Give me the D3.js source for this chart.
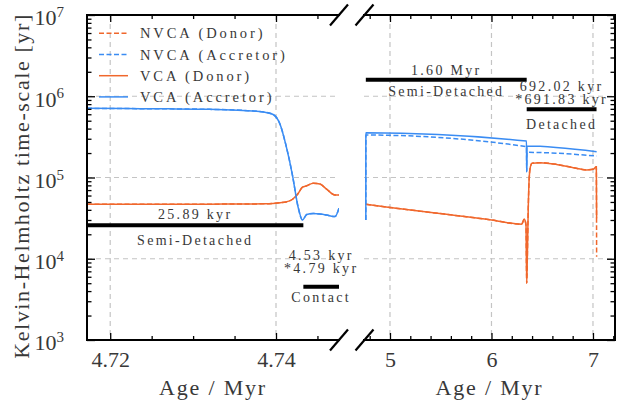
<!DOCTYPE html>
<html lang="en">
<head>
<meta charset="utf-8">
<title>Kelvin-Helmholtz time-scale</title>
<script src="https://cdn.jsdelivr.net/npm/d3@7"></script>
<style>
  body { margin: 0; background: #fff; }
  text { fill: #383838; }
</style>
</head>
<body>
<script>
// ---- data ----
// left panel (zoomed on the contact phase), ages in Myr, time-scales in yr
var leftAge      = [4.7172, 4.722, 4.727, 4.732, 4.736, 4.7385, 4.7396, 4.7405, 4.7412, 4.7420, 4.74265, 4.7432, 4.7437, 4.7445, 4.7453, 4.7461, 4.7471, 4.7476];
var leftAccretor = [7.1e5, 7.05e5, 7.0e5, 6.9e5, 6.7e5, 6.4e5, 6.0e5, 4.5e5, 2.5e5, 1.05e5, 4.4e4, 3.0e4, 3.5e4, 3.6e4, 3.55e4, 3.45e4, 3.3e4, 4.2e4];
var leftDonor    = [4.7e4, 4.7e4, 4.7e4, 4.7e4, 4.72e4, 4.75e4, 4.8e4, 4.9e4, 5.0e4, 5.4e4, 6.3e4, 7.6e4, 7.9e4, 8.5e4, 8.3e4, 7.2e4, 6.1e4, 6.1e4];

// right panel
var accAge       = [4.762, 4.7625, 6.345, 6.347, 6.350, 7.036];
var vcaAccretor  = [3.0e4, 3.56e5, 2.81e5, 1.18e5, 2.44e5, 2.08e5];
var nvcaAccretor = [3.0e4, 3.33e5, 2.4e5, 1.18e5, 2.04e5, 1.84e5];

var donAge       = [4.762, 5.0, 5.49, 6.0, 6.297, 6.323, 6.340, 6.347, 6.353, 6.362, 6.372, 6.385, 6.40, 6.478, 6.641, 6.806, 6.937, 7.002, 7.033, 7.036];
var vcaDonor     = [4.68e4, 4.28e4, 3.6e4, 3.0e4, 2.66e4, 3.08e4, 2.6e4, 5.0e3, 1.0e4, 4.0e4, 1.0e5, 1.38e5, 1.5e5, 1.52e5, 1.45e5, 1.32e5, 1.24e5, 1.26e5, 1.36e5, 3.15e4];
var nvcaDonor    = [4.68e4, 4.28e4, 3.6e4, 3.0e4, 2.66e4, 3.08e4, 2.6e4, 5.0e3, 1.0e4, 4.0e4, 1.0e5, 1.38e5, 1.5e5, 1.52e5, 1.45e5, 1.32e5, 1.24e5, 1.26e5, 1.36e5, 1.06e4];

// phase bars: start, end, duration in yr (drawn at y = duration)
var phaseStart = [4.7172, 4.7433, 4.762, 6.347];
var phaseEnd   = [4.7433, 4.7476, 6.347, 7.035];
var phaseYr    = [25890, 4530, 1.60e6, 692020];

var legendNames = ["NVCA (Donor)", "NVCA (Accretor)", "VCA (Donor)", "VCA (Accretor)"];

// ticks
var leftMajor  = [4.72, 4.74];
var leftMinor  = [4.725, 4.73, 4.735, 4.745];
var rightMajor = [5, 6, 7];
var rightMinor = [4.8, 5.2, 5.4, 5.6, 5.8, 6.2, 6.4, 6.6, 6.8, 7.2];
var yMajor = [1e3, 1e4, 1e5, 1e6, 1e7];
var yMinor = [];
[1e3, 1e4, 1e5, 1e6].forEach(function(p) {
	[2, 3, 4, 5, 6, 7, 8, 9].forEach(function(m) { yMinor.push(m * p); });
});

var w = 619, h = 405;
var plotTop = 15, plotBottom = 340;
var orange = "#f0672c", blue = "#3a8cf3";
var serif = "'Liberation Serif', 'Times New Roman', serif";

var y = d3.scaleLog().domain([1e3, 1e7]).range([plotBottom, plotTop]);
var xL = d3.scaleLinear().domain([4.7172, 4.7476]).range([87, 339]);
var xR = d3.scaleLinear().domain([4.744, 7.217]).range([364, 615]);

var svg = d3.select("body").append("svg")
	.attr("width", w)
	.attr("height", h)
	.attr("font-family", serif);

var defs = svg.append("defs");
defs.append("clipPath").attr("id", "clipL").append("rect")
	.attr("x", 87).attr("y", plotTop).attr("width", 339 - 87).attr("height", plotBottom - plotTop);
defs.append("clipPath").attr("id", "clipR").append("rect")
	.attr("x", 364).attr("y", plotTop).attr("width", 615 - 364).attr("height", plotBottom - plotTop);

//Gridlines
function grid(x, xs) {
	var g = svg.append("g")
		.attr("stroke", "#c4c4c4")
		.attr("stroke-width", 1.2)
		.attr("stroke-dasharray", "5,4");
	g.selectAll(".gx").data(xs).enter().append("line")
		.attr("x1", function(d) { return x(d); })
		.attr("x2", function(d) { return x(d); })
		.attr("y1", plotTop).attr("y2", plotBottom);
	g.selectAll(".gy").data([1e4, 1e5, 1e6]).enter().append("line")
		.attr("x1", x.range()[0]).attr("x2", x.range()[1])
		.attr("y1", function(d) { return y(d); })
		.attr("y2", function(d) { return y(d); });
}
grid(xL, leftMajor);
grid(xR, rightMajor);

//Lines
function curve(x, ages, vals, color, dashed, clip) {
	var line = d3.line()
		.x(function(d) { return x(d[0]); })
		.y(function(d) { return y(d[1]); })
		.curve(d3.curveMonotoneX);
	svg.append("path")
		.datum(d3.zip(ages, vals))
		.attr("clip-path", "url(#" + clip + ")")
		.attr("fill", "none")
		.attr("stroke", color)
		.attr("stroke-width", 1.5)
		.attr("stroke-dasharray", dashed ? "5,2.5" : null)
		.attr("d", line);
}
curve(xL, leftAge, leftDonor, orange, true, "clipL");
curve(xL, leftAge, leftAccretor, blue, true, "clipL");
curve(xL, leftAge, leftDonor, orange, false, "clipL");
curve(xL, leftAge, leftAccretor, blue, false, "clipL");

curve(xR, donAge, nvcaDonor, orange, true, "clipR");
curve(xR, accAge, nvcaAccretor, blue, true, "clipR");
curve(xR, donAge, vcaDonor, orange, false, "clipR");
curve(xR, accAge, vcaAccretor, blue, false, "clipR");

//Phase bars
var barX = [xL, xL, xR, xR];
svg.selectAll(".phase").data(phaseYr).enter().append("line")
	.attr("x1", function(d, i) { return barX[i](phaseStart[i]); })
	.attr("x2", function(d, i) { return barX[i](phaseEnd[i]); })
	.attr("y1", function(d) { return y(d); })
	.attr("y2", function(d) { return y(d); })
	.attr("stroke", "#000")
	.attr("stroke-width", 4);

// annotation texts: [bar index, text, dy from bar]
var notes = [
	[0, "25.89 kyr", -6], [0, "Semi-Detached", 20],
	[1, "4.53 kyr", -27], [1, "*4.79 kyr", -13.5], [1, "Contact", 15],
	[2, "1.60 Myr", -5], [2, "Semi-Detached", 16],
	[3, "692.02 kyr", -18.5], [3, "*691.83 kyr", -5], [3, "Detached", 20]
];
svg.selectAll(".note").data(notes).enter().append("text")
	.attr("x", function(d) {
		var i = d[0];
		return (barX[i](phaseStart[i]) + barX[i](phaseEnd[i])) / 2;
	})
	.attr("y", function(d) { return y(phaseYr[d[0]]) + d[2]; })
	.attr("text-anchor", "middle")
	.attr("font-size", "14px")
	.attr("letter-spacing", "2.3px")
	.text(function(d) { return d[1]; });

//Axes
function styleAxis(g) {
	g.select(".domain").remove();
	g.selectAll(".tick line").attr("stroke", "#000").attr("stroke-width", 1.3);
	g.attr("font-family", serif);
}
function xAxes(x, major, minor) {
	svg.append("g").attr("transform", "translate(0," + plotBottom + ")")
		.call(d3.axisBottom(x).tickValues(major).tickSize(-7).tickPadding(11)
			.tickFormat(function(d) { return String(d); }))
		.call(styleAxis)
		.attr("font-size", 22)
		.selectAll("text").attr("fill", "#383838");
	svg.append("g").attr("transform", "translate(0," + plotBottom + ")")
		.call(d3.axisBottom(x).tickValues(minor).tickSize(-4).tickFormat(""))
		.call(styleAxis);
	svg.append("g").attr("transform", "translate(0," + plotTop + ")")
		.call(d3.axisTop(x).tickValues(major).tickSize(-7).tickFormat(""))
		.call(styleAxis);
	svg.append("g").attr("transform", "translate(0," + plotTop + ")")
		.call(d3.axisTop(x).tickValues(minor).tickSize(-4).tickFormat(""))
		.call(styleAxis);
}
xAxes(xL, leftMajor, leftMinor);
xAxes(xR, rightMajor, rightMinor);

// left y axis with 10^n labels
svg.append("g").attr("transform", "translate(87,0)")
	.call(d3.axisLeft(y).tickValues(yMajor).tickSize(-8).tickPadding(23).tickFormat(function() { return ""; }))
	.call(styleAxis)
	.selectAll(".tick text")
	.attr("font-size", 22)
	.attr("fill", "#383838")
	.attr("dy", "0.45em")
	.each(function(d) {
		var t = d3.select(this);
		t.text("10");
		t.append("tspan").attr("dy", "-0.55em").attr("font-size", 15).text(Math.round(Math.log10(d)));
	});
svg.append("g").attr("transform", "translate(87,0)")
	.call(d3.axisLeft(y).tickValues(yMinor).tickSize(-4.5).tickFormat(""))
	.call(styleAxis);
// right spine ticks
svg.append("g").attr("transform", "translate(615,0)")
	.call(d3.axisRight(y).tickValues(yMajor).tickSize(-8).tickFormat(""))
	.call(styleAxis);
svg.append("g").attr("transform", "translate(615,0)")
	.call(d3.axisRight(y).tickValues(yMinor).tickSize(-4.5).tickFormat(""))
	.call(styleAxis);

//Spines
var spines = [
	[87, plotTop, 87, plotBottom], [87, plotTop, 339, plotTop], [87, plotBottom, 339, plotBottom],
	[364, plotTop, 615, plotTop], [364, plotBottom, 615, plotBottom], [615, plotTop, 615, plotBottom]
];
svg.selectAll(".spine").data(spines).enter().append("line")
	.attr("x1", function(d) { return d[0]; }).attr("y1", function(d) { return d[1]; })
	.attr("x2", function(d) { return d[2]; }).attr("y2", function(d) { return d[3]; })
	.attr("stroke", "#000").attr("stroke-width", 2).attr("stroke-linecap", "square");

// break marks
var breaks = [[339, plotTop], [364.5, plotTop], [339, plotBottom], [364.5, plotBottom]];
svg.selectAll(".brk").data(breaks).enter().append("line")
	.attr("x1", function(d) { return d[0] - 9; }).attr("y1", function(d) { return d[1] + 10.5; })
	.attr("x2", function(d) { return d[0] + 9; }).attr("y2", function(d) { return d[1] - 10.5; })
	.attr("stroke", "#000").attr("stroke-width", 2.2);

//Legend
var legColor = [orange, blue, orange, blue];
var legDash = [true, true, false, false];
var leg = svg.append("g");
legendNames.forEach(function(name, i) {
	var ly = 33.3 + i * 21.2;
	leg.append("line")
		.attr("x1", 99).attr("x2", 128).attr("y1", ly).attr("y2", ly)
		.attr("stroke", legColor[i]).attr("stroke-width", 1.5)
		.attr("stroke-dasharray", legDash[i] ? "5,2.5" : null);
	leg.append("text")
		.attr("x", 140).attr("y", ly + 5)
		.attr("font-size", "14.5px")
		.attr("letter-spacing", "2.9px")
		.text(name);
});

//Axis labels
svg.append("text")
	.attr("transform", "translate(29,186) rotate(-90)")
	.attr("text-anchor", "middle")
	.attr("font-size", "22px")
	.attr("letter-spacing", "1.6px")
	.text("Kelvin-Helmholtz time-scale [yr]");
[xL, xR].forEach(function(x) {
	svg.append("text")
		.attr("x", (x.range()[0] + x.range()[1]) / 2)
		.attr("y", 395)
		.attr("text-anchor", "middle")
		.attr("font-size", "22px")
		.attr("letter-spacing", "1.8px")
		.text("Age / Myr");
});
</script>
</body>
</html>
